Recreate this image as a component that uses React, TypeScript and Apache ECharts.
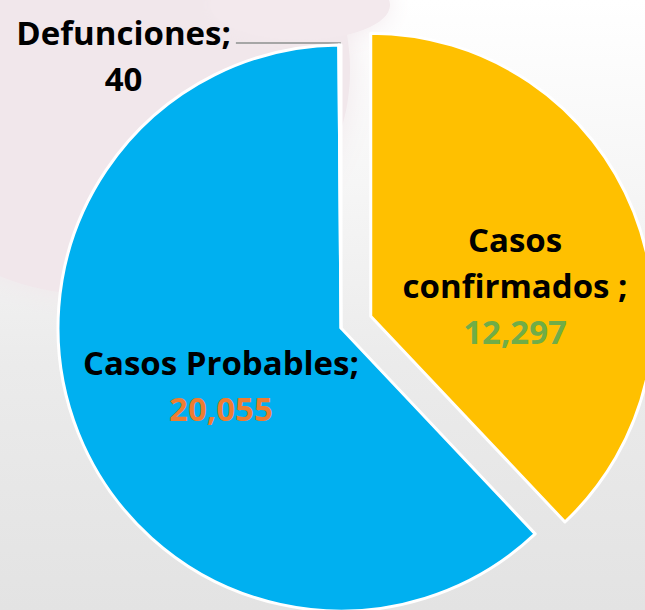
import React, { useEffect, useRef } from "react";
import * as echarts from "echarts";

const categories = ["Casos\nconfirmados ;", "Casos Probables;", "Defunciones;"];
const values = [12297, 20055, 40];
const sliceColors = ["#FFC000", "#00B0F0", "#A5A5A5"];
const valueColors = ["#70AD47", "#ED7D31", "#000000"];

export default function App() {
  const ref = useRef<HTMLDivElement>(null);
  useEffect(() => {
    document.body.style.margin = "0";
    const chart = echarts.init(ref.current!, null, { renderer: "svg" });
    const fontFamily = "'Open Sans', sans-serif";
    const fs = 33;
    const lh = 46;
    const data = categories.map((name, i) => ({
      name,
      value: values[i],
      selected: i === 0,
      itemStyle: { color: sliceColors[i] },
      label:
        i === 2
          ? {
              position: "outside",
              padding: [24, 0, 0, 0],
            }
          : { position: "inside" },
      labelLine: i === 2 ? { show: true, length: 2, length2: 104 } : { show: false },
    }));
    const rs = (color: string) => ({ fontFamily, fontWeight: "bold", fontSize: fs, lineHeight: lh, color, align: "center" });
    chart.setOption({
      animation: false,
      backgroundColor: new echarts.graphic.LinearGradient(0, 0, 0, 1, [
        { offset: 0, color: "#ffffff" },
        { offset: 0.3, color: "#f6f6f6" },
        { offset: 0.6, color: "#ebebeb" },
        { offset: 1, color: "#e3e3e3" },
      ]),
      graphic: [
        {
          type: "ellipse",
          z: -10,
          shape: { cx: 100, cy: 70, rx: 250, ry: 225 },
          style: { fill: "#f1e7eb", shadowBlur: 30, shadowColor: "#f1e7eb" },
          silent: true,
        },
        {
          type: "ellipse",
          z: -10,
          shape: { cx: 300, cy: 5, rx: 90, ry: 35 },
          style: { fill: "#f3e9ed", shadowBlur: 25, shadowColor: "#f3e9ed" },
          silent: true,
        },
      ],
      series: [
        {
          type: "pie",
          center: [341, 328],
          radius: [0, 283],
          startAngle: 90,
          clockwise: true,
          selectedMode: "single",
          selectedOffset: 32,
          avoidLabelOverlap: false,
          emphasis: { disabled: true },
          itemStyle: { borderColor: "#ffffff", borderWidth: 3 },
          label: {
            show: true,
            fontFamily,
            fontWeight: "bold",
            fontSize: fs,
            lineHeight: lh,
            color: "#000",
            formatter: (p: any) => {
              const i = p.dataIndex;
              const lines = String(p.name)
                .split("\n")
                .map((l: string) => `{n|${l}}`);
              const v = `{v${i}|${Number(p.value).toLocaleString("en-US")}}`;
              return [...lines, v].join("\n");
            },
            rich: {
              n: rs("#000"),
              v0: rs(valueColors[0]),
              v1: rs(valueColors[1]),
              v2: rs(valueColors[2]),
            },
          },
          labelLine: { lineStyle: { color: "#A6A6A6", width: 2 } },
          labelLayout: (params: any) => {
            if (params.dataIndex === 0) return { dx: 10, dy: 23 };
            if (params.dataIndex === 1) return { dx: 14, dy: 4 };
            return {};
          },
          data,
        },
      ],
    });
    return () => chart.dispose();
  }, []);
  return <div ref={ref} style={{ width: 645, height: 610 }} />;
}
